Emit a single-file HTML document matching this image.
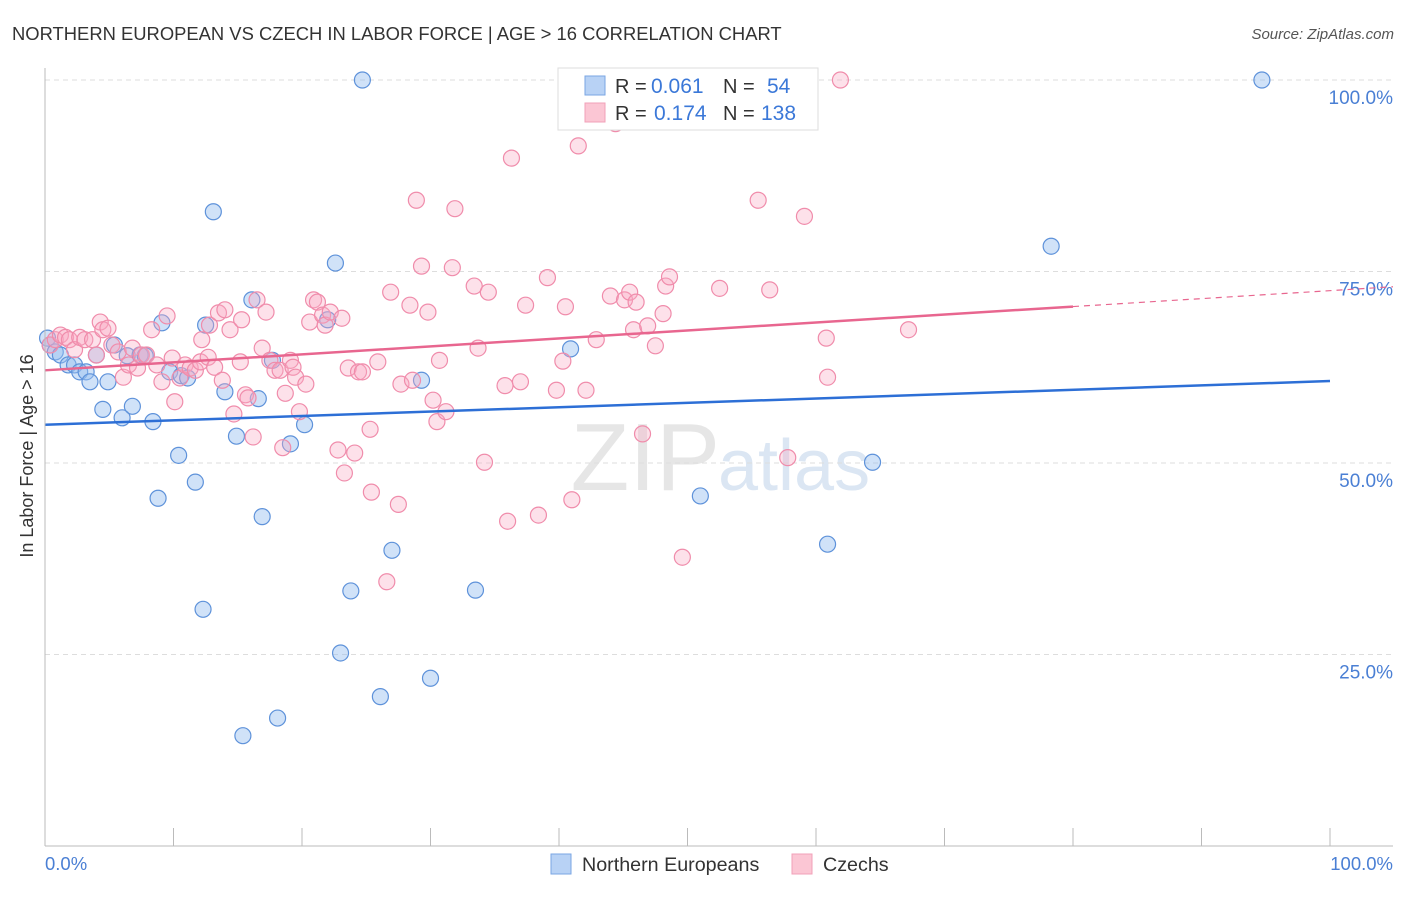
<!DOCTYPE html>
<html><head><meta charset="utf-8"><style>
body{margin:0;background:#fff;font-family:"Liberation Sans",sans-serif;}
svg text{font-family:"Liberation Sans",sans-serif;}
</style></head><body>
<svg id="c" width="1406" height="892">
<text x="12" y="40" font-size="18.4" fill="#333">NORTHERN EUROPEAN VS CZECH IN LABOR FORCE | AGE &gt; 16 CORRELATION CHART</text>
<text x="1394" y="39" font-size="15" fill="#555" text-anchor="end" font-style="italic">Source: ZipAtlas.com</text>
<text x="720" y="490" font-size="96" fill="#e6e6e6" text-anchor="end" font-family="Liberation Serif">ZIP</text>
<text x="718" y="490" font-size="72" fill="#dbe6f3">atlas</text>
<g id="grid"></g><g id="pts"></g><g id="lines"></g>
<line x1="45" y1="68" x2="45" y2="846" stroke="#bbb"/>
<line x1="45" y1="846" x2="1393" y2="846" stroke="#bbb"/>
<text x="45" y="870" font-size="18.5" fill="#4a7fd4">0.0%</text>
<text x="1393" y="870" font-size="18.5" fill="#4a7fd4" text-anchor="end">100.0%</text>
<text transform="translate(33,456) rotate(-90)" font-size="18" fill="#333" text-anchor="middle">In Labor Force | Age &gt; 16</text>
<g>
<rect x="558" y="68" width="260" height="62" fill="#fff" stroke="#ddd"/>
<rect x="585" y="76" width="20" height="19" fill="#b8d2f5" stroke="#7aa6e3"/>
<rect x="585" y="103" width="20" height="19" fill="#fbc6d4" stroke="#f2a0b8"/>
<text x="615" y="93" font-size="20" fill="#333">R =</text>
<text x="651" y="93" font-size="21" fill="#3b78d8">0.061</text>
<text x="723" y="93" font-size="20" fill="#333">N =</text>
<text x="767" y="93" font-size="21" fill="#3b78d8">54</text>
<text x="615" y="120" font-size="20" fill="#333">R =</text>
<text x="654" y="120" font-size="21" fill="#3b78d8">0.174</text>
<text x="723" y="120" font-size="20" fill="#333">N =</text>
<text x="761" y="120" font-size="21" fill="#3b78d8">138</text>
</g>
<g>
<rect x="551" y="854" width="20" height="20" fill="#b8d2f5" stroke="#7aa6e3"/>
<text x="582" y="871" font-size="19.7" fill="#333">Northern Europeans</text>
<rect x="792" y="854" width="20" height="20" fill="#fbc6d4" stroke="#f2a0b8"/>
<text x="823" y="871" font-size="19.7" fill="#333">Czechs</text>
</g>
</svg>
<script>
const yTicks=[25,50,75,100];
const yTickLabels=["25.0%","50.0%","75.0%","100.0%"];
const xTicks=[0,10,20,30,40,50,60,70,80,90,100];
const blueX=[0.2,0.4,0.8,1.2,1.8,2.3,2.7,3.2,3.5,4.0,4.5,4.9,5.4,6.0,6.4,6.8,7.4,7.8,8.4,8.8,9.1,9.7,10.4,10.6,11.1,11.7,12.3,12.5,13.1,14.0,14.9,15.4,16.1,16.6,16.9,17.7,18.1,19.1,20.2,22.0,22.6,23.0,23.8,24.7,26.1,27.0,29.3,30.0,33.5,40.9,51.0,60.9,64.4,78.3,94.7];
const blueY=[66.3,65.4,64.5,64.1,62.8,62.8,61.9,61.9,60.6,64.1,57.0,60.6,65.4,55.9,64.0,57.4,64.1,64.0,55.4,45.4,68.3,61.9,51.0,61.4,61.1,47.5,30.9,68.0,82.8,59.3,53.5,14.4,71.3,58.4,43.0,63.4,16.7,52.5,55.0,68.7,76.1,25.2,33.3,100,19.5,38.6,60.8,21.9,33.4,64.9,45.7,39.4,50.1,78.3,100];
const pinkX=[0.4,0.8,1.2,1.6,1.9,2.3,2.7,3.1,3.7,4.0,4.3,4.5,4.9,5.2,5.7,6.1,6.5,6.8,7.2,7.5,7.9,8.3,8.7,9.1,9.5,9.9,10.1,10.5,10.9,11.3,11.7,12.1,12.2,12.7,12.8,13.2,13.5,13.8,14.0,14.4,14.7,15.2,15.3,15.6,15.8,16.2,16.5,16.9,17.2,17.5,17.9,18.3,18.5,18.7,19.1,19.3,19.5,19.8,20.3,20.6,20.9,21.2,21.6,21.8,22.2,22.8,23.1,23.3,23.6,24.1,24.4,24.7,25.3,25.4,25.9,26.6,26.9,27.5,27.7,28.4,28.6,28.9,29.3,29.8,30.2,30.5,30.7,31.2,31.7,31.9,33.4,33.7,34.2,34.5,35.8,36.0,36.3,37.0,37.4,38.4,39.1,39.8,40.3,40.5,41.0,41.5,42.1,42.9,44.0,44.4,45.1,45.5,45.8,46.0,46.5,46.9,47.5,48.1,48.3,48.6,49.6,52.5,55.5,56.4,57.8,59.1,60.8,60.9,61.9,67.2];
const pinkY=[65.4,66.1,66.7,66.4,66.1,64.8,66.4,66.1,66.1,64.1,68.4,67.4,67.6,65.4,64.5,61.2,62.8,65.0,62.4,64.1,64.1,67.4,62.8,60.6,69.2,63.7,58.0,61.1,62.8,62.4,62.1,63.2,66.1,63.8,68.0,62.5,69.6,60.8,70.0,67.4,56.4,63.2,68.7,58.9,58.5,53.4,71.3,65.0,69.7,63.4,62.1,62.1,52.0,59.1,63.4,62.5,61.2,56.7,60.3,68.4,71.3,71.0,69.3,68.0,69.7,51.7,68.9,48.7,62.4,51.3,61.9,61.9,54.4,46.2,63.2,34.5,72.3,44.6,60.3,70.6,60.8,84.3,75.7,69.7,58.2,55.4,63.4,56.7,75.5,83.2,73.1,65.0,50.1,72.3,60.1,42.4,89.8,60.6,70.6,43.2,74.2,59.5,63.3,70.4,45.2,91.4,59.5,66.1,71.8,94.3,71.3,72.3,67.4,71.0,53.8,67.9,65.3,69.5,73.1,74.3,37.7,72.8,84.3,72.6,50.7,82.2,66.3,61.2,100,67.4];
const blueTrend=[55.0,60.7];
const pinkTrend=[62.1,72.5];
const X=v=>45+v*12.85, Y=v=>846-v*7.66;
const NS="http://www.w3.org/2000/svg";
function mk(tag,attrs,parent){const e=document.createElementNS(NS,tag);for(const k in attrs)e.setAttribute(k,attrs[k]);parent.appendChild(e);return e;}
const grid=document.getElementById('grid'),pts=document.getElementById('pts'),lines=document.getElementById('lines');
yTicks.forEach((t,i)=>{
  const l=mk('line',{x1:45,x2:1393,y1:Y(t),y2:Y(t),stroke:'#ddd','stroke-dasharray':'5,4'},grid);
  
  
  const tx=mk('text',{x:1393,y:Y(t)+24,'font-size':19,fill:'#4a7fd4','text-anchor':'end'},grid);
  tx.textContent=yTickLabels[i];
  
  
});
xTicks.forEach(t=>{
  const l=mk('line',{x1:X(t),x2:X(t),y1:828,y2:846,stroke:'#bbb'},grid);
  
  
});
blueX.forEach((x,i)=>{
  const c=mk('circle',{cx:X(x),cy:Y(blueY[i]),r:8,fill:'rgba(150,190,240,0.45)',stroke:'#5e92da','stroke-width':1.2},pts);
  
  
});
pinkX.forEach((x,i)=>{
  const c=mk('circle',{cx:X(x),cy:Y(pinkY[i]),r:8,fill:'rgba(248,170,195,0.35)',stroke:'#f08cab','stroke-width':1.2},pts);
  
  
});
const pAt=x=>pinkTrend[0]+(pinkTrend[1]-pinkTrend[0])*x/100;
const bl=mk('line',{x1:X(0),y1:Y(blueTrend[0]),x2:X(100),y2:Y(blueTrend[1]),stroke:'#2d6fd6','stroke-width':2.5},lines);


const pl=mk('line',{x1:X(0),y1:Y(pAt(0)),x2:X(80),y2:Y(pAt(80)),stroke:'#e8668f','stroke-width':2.5},lines);


const pd=mk('line',{x1:X(80),y1:Y(pAt(80)),x2:X(104.9),y2:Y(pAt(104.9)),stroke:'#e8668f','stroke-width':1.2,'stroke-dasharray':'6,5'},lines);


</script>
</body></html>
